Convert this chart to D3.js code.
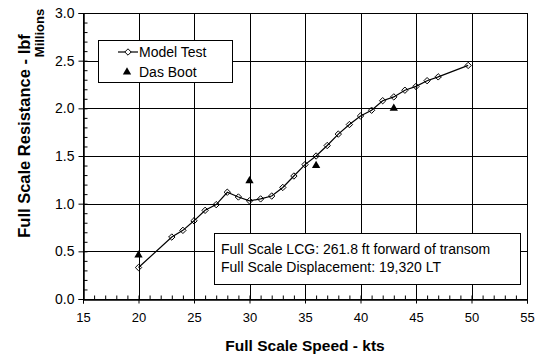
<!DOCTYPE html>
<html>
<head>
<meta charset="utf-8">
<script src="https://cdn.jsdelivr.net/npm/d3@7"></script>
<style>
  body { margin: 0; background: #fff; }
  text { font-family: "Liberation Sans", Arial, sans-serif; fill: #000; }
</style>
</head>
<body>
<svg id="chart" width="535" height="359"></svg>
<script>
// data
const modelSpeed = [20, 23, 24, 25, 26, 27, 28, 29, 30, 31, 32, 33, 34, 35, 36, 37, 38, 39, 40, 41, 42, 43, 44, 45, 46, 47, 49.7];
const modelResist = [0.33, 0.65, 0.72, 0.82, 0.93, 0.99, 1.12, 1.07, 1.03, 1.05, 1.08, 1.17, 1.29, 1.41, 1.50, 1.61, 1.73, 1.83, 1.92, 1.98, 2.08, 2.12, 2.19, 2.23, 2.29, 2.33, 2.45];
const bootSpeed = [20, 30, 36, 43];
const bootResist = [0.46, 1.24, 1.40, 2.00];
const xTicks = [15, 20, 25, 30, 35, 40, 45, 50, 55];
const yTicks = [0, 0.5, 1.0, 1.5, 2.0, 2.5, 3.0];
const noteLines = ["Full Scale LCG: 261.8 ft forward of transom", "Full Scale Displacement: 19,320 LT"];

const margin = { left: 83, top: 13, right: 8, bottom: 60 }; // plot area margins
const W = 535, H = 359;
const svg = d3.select("#chart");

const x = d3.scaleLinear().domain([15, 55]).range([margin.left, W - margin.right]);
const y = d3.scaleLinear().domain([0, 3]).range([H - margin.bottom, margin.top]);
const px = v => Math.round(v) + 0.5; // snap to pixel centre

// gridlines as one path, drawn from the tick arrays through the scales
const gridPath = d3.path();
yTicks.slice(1).forEach(v => { gridPath.moveTo(x(15), px(y(v))); gridPath.lineTo(x(55), px(y(v))); });
xTicks.slice(1).forEach(v => { gridPath.moveTo(px(x(v)), y(0)); gridPath.lineTo(px(x(v)), y(3)); });
svg.append("path").attr("class", "gridlines").attr("d", gridPath.toString())
    .attr("fill", "none").attr("stroke", "#000").attr("stroke-width", 1);

// axes
const xAxis = svg.append("g").attr("transform", `translate(0,${px(y(0))})`)
    .call(d3.axisBottom(x).tickValues(xTicks).tickSize(4).tickPadding(9).tickFormat(d3.format("d")));
xAxis.append("g").call(d3.axisTop(x).ticks(40).tickSize(4).tickFormat(""));
const yAxis = svg.append("g").attr("transform", `translate(${px(x(15))},0)`)
    .call(d3.axisLeft(y).tickValues(yTicks).tickSize(5).tickPadding(4).tickFormat(d3.format(".1f")));
yAxis.append("g").call(d3.axisRight(y).ticks(30).tickSize(4).tickFormat(""));
svg.selectAll(".domain").attr("stroke", "#000");
svg.selectAll(".tick line").attr("stroke", "#000");
xAxis.selectAll(".tick text").attr("font-size", 13).attr("font-family", "Liberation Sans, Arial, sans-serif");
yAxis.selectAll(".tick text").attr("font-size", 14).attr("font-family", "Liberation Sans, Arial, sans-serif");

// axis titles
svg.append("text").attr("x", (x(15) + x(55)) / 2).attr("y", 351)
    .attr("text-anchor", "middle").attr("font-size", 15.5).attr("font-weight", "bold")
    .text("Full Scale Speed - kts");
svg.append("text").attr("transform", "translate(30,136) rotate(-90)")
    .attr("text-anchor", "middle").attr("font-size", 16.5).attr("font-weight", "bold")
    .text("Full Scale Resistance - lbf");
svg.append("text").attr("transform", "translate(44,33) rotate(-90)")
    .attr("text-anchor", "middle").attr("font-size", 13).attr("font-weight", "bold")
    .text("Millions");

// model test line with open diamonds
const model = modelSpeed.map((s, i) => [s, modelResist[i]]);
svg.append("path").datum(model)
    .attr("fill", "none").attr("stroke", "#000").attr("stroke-width", 1.2)
    .attr("d", d3.line().x(d => x(d[0])).y(d => y(d[1])));
const diamond = d3.symbol().type(d3.symbolDiamond2).size(26);
svg.append("g").selectAll("path").data(model).join("path")
    .attr("transform", d => `translate(${x(d[0])},${y(d[1])})`)
    .attr("d", diamond).attr("fill", "none")
    .attr("stroke", "#000").attr("stroke-width", 1);

// Das Boot triangles
const tri = d3.symbol().type(d3.symbolTriangle).size(30);
svg.append("g").selectAll("path").data(bootSpeed.map((s, i) => [s, bootResist[i]])).join("path")
    .attr("transform", d => `translate(${x(d[0])},${y(d[1])})`)
    .attr("d", tri).attr("fill", "#000");

// legend
const lg = svg.append("g");
lg.append("rect").attr("x", 98.5).attr("y", 40.5).attr("width", 134).attr("height", 42)
    .attr("fill", "#fff").attr("stroke", "#000");
lg.append("line").attr("x1", 118).attr("x2", 138).attr("y1", 52).attr("y2", 52)
    .attr("stroke", "#000").attr("stroke-width", 1.2);
lg.append("path").attr("transform", "translate(128,52)").attr("d", diamond)
    .attr("fill", "#fff").attr("stroke", "#000");
lg.append("path").attr("transform", "translate(127,72)").attr("d", tri).attr("fill", "#000");
lg.append("text").attr("x", 139).attr("y", 57).attr("font-size", 14).text("Model Test");
lg.append("text").attr("x", 139).attr("y", 77).attr("font-size", 14).text("Das Boot");

// annotation box
const nb = svg.append("g");
nb.append("rect").attr("x", 214.5).attr("y", 233.5).attr("width", 306).attr("height", 51)
    .attr("fill", "#fff").attr("stroke", "#000");
nb.selectAll("text").data(noteLines).join("text")
    .attr("x", 221).attr("y", (d, i) => 254 + i * 18).attr("font-size", 14).text(d => d);

// frame top and right
svg.append("rect").attr("x", px(x(15))).attr("y", px(y(3)))
    .attr("width", Math.round(x(55) - x(15))).attr("height", Math.round(y(0) - y(3)))
    .attr("fill", "none").attr("stroke", "#000");
</script>
</body>
</html>
